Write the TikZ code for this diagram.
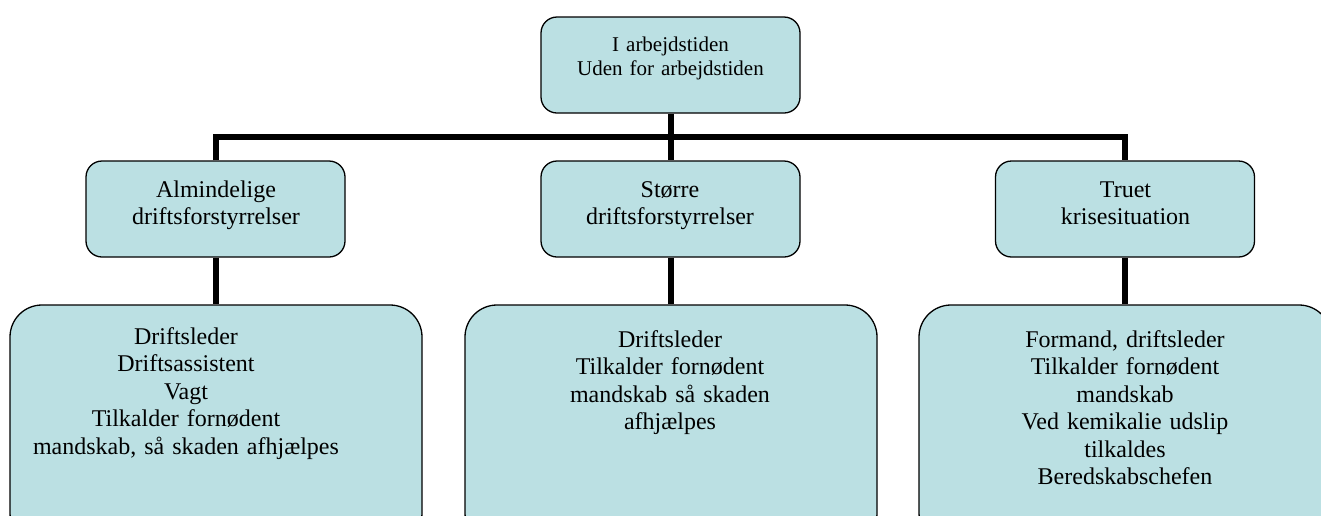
\documentclass[tikz,border=0pt]{standalone}
\usepackage{fontspec}
\setmainfont{Liberation Serif}
\definecolor{orgfill}{HTML}{BBE0E3}

\begin{document}
\begin{tikzpicture}[x=0.5pt,y=-0.5pt,
 box/.style={draw,fill=orgfill,line width=0.65pt,rounded corners=8pt,
  minimum width=129.5pt,minimum height=48pt,inner sep=0pt},
 bigbox/.style={box,rounded corners=16pt,minimum width=206pt,minimum height=120pt},
 txt/.style={anchor=base,inner sep=0pt,align=center,text width=220pt,
  font=\fontsize{12}{13.75}\selectfont},
 link/.style={line width=3pt}]
 \useasboundingbox (0,0) rectangle (1321,515);
 % boxes
 \node[box] (n_tid) at (670.5,65) {};
 \node[box] (n_alm) at (215.5,209) {};
 \node[box] (n_stor) at (670.5,209) {};
 \node[box] (n_krise) at (1125,209) {};
 \node[bigbox] (b_alm) at (216,425) {};
 \node[bigbox] (b_stor) at (671,425) {};
 \node[bigbox] (b_krise) at (1125,425) {};
 % connectors
 \coordinate (hub) at (670.5,137);
 \draw[link] (n_tid.south) -- (hub);
 \draw[link] (n_alm.north) |- (hub) -| (n_krise.north);
 \draw[link] (hub) -- (n_stor.north);
 \draw[link] (n_alm.south) -- (n_alm.south |- b_alm.north);
 \draw[link] (n_stor.south) -- (n_stor.south |- b_stor.north);
 \draw[link] (n_krise.south) -- (n_krise.south |- b_krise.north);
 % texts
 \node[txt,font=\fontsize{10.5}{11.65}\selectfont] (t_tid) at (670.5,51.7)
  {I arbejdstiden\\Uden for arbejdstiden};
 \node[txt] (t_alm) at (216,197) {Almindelige\\driftsforstyrrelser};
 \node[txt] (t_stor) at (670,197) {Større\\driftsforstyrrelser};
 \node[txt] (t_krise) at (1125.5,197) {Truet\\krisesituation};
 \node[txt] (u_alm) at (186,344) {Driftsleder\\Driftsassistent\\Vagt\\Tilkalder fornødent\\mandskab, så skaden afhjælpes};
 \node[txt] (u_stor) at (670,347) {Driftsleder\\Tilkalder fornødent\\mandskab så skaden\\afhjælpes};
 \node[txt] (u_krise) at (1125,347) {Formand, driftsleder\\Tilkalder fornødent\\mandskab\\Ved kemikalie udslip\\tilkaldes\\Beredskabschefen};
\end{tikzpicture}
\end{document}
